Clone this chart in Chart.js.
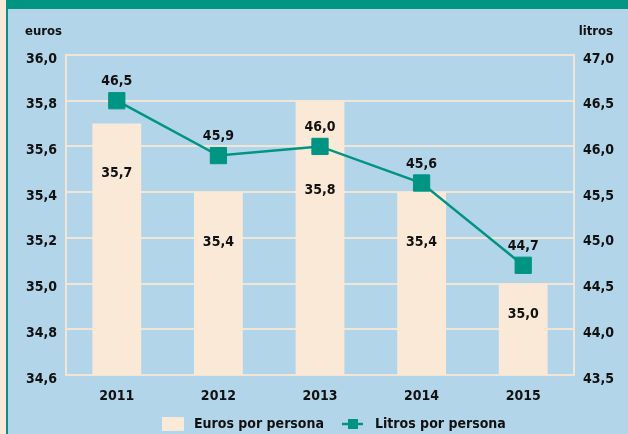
<!DOCTYPE html>
<html>
<head>
<meta charset="utf-8">
<script src="https://cdn.jsdelivr.net/npm/chart.js@4"></script>
<style>
html,body{margin:0;padding:0;background:#b3d5ea;}
#wrap{width:628px;height:434px;position:relative;}
</style>
</head>
<body>
<div id="wrap"><canvas id="c" width="628" height="434"></canvas></div>
<script>
const years = ['2011', '2012', '2013', '2014', '2015'];
const eurosPorPersona = [35.7, 35.4, 35.8, 35.4, 35.0];
const litrosPorPersona = [46.5, 45.9, 46.0, 45.6, 44.7];
const eurosTicks = [34.6, 34.8, 35.0, 35.2, 35.4, 35.6, 35.8, 36.0];
const litrosTicks = [43.5, 44.0, 44.5, 45.0, 45.5, 46.0, 46.5, 47.0];

const BG = '#b3d5ea';
const BEIGE = '#fbe9d8';
const TEAL = '#009483';
const GRID = '#f1e6d6';
const FONT = '"DejaVu Sans Condensed", "Liberation Sans Narrow", sans-serif';
const fmt = v => Number(v).toFixed(1).replace('.', ',');

const framePlugin = {
  id: 'frame',
  beforeDraw(chart) {
    const ctx = chart.ctx;
    ctx.save();
    ctx.fillStyle = BG;
    ctx.fillRect(0, 0, 628, 434);
    ctx.fillStyle = BEIGE;
    ctx.fillRect(0, 0, 6, 434);
    ctx.fillStyle = TEAL;
    ctx.fillRect(6, 0, 2, 434);
    ctx.fillRect(6, 0, 622, 9);
    ctx.restore();
  },
  afterDraw(chart) {
    const ctx = chart.ctx;
    const area = chart.chartArea;
    ctx.save();
    ctx.fillStyle = '#111';
    ctx.font = 'bold 13px ' + FONT;
    ctx.textBaseline = 'middle';
    ctx.textAlign = 'left';
    ctx.fillText('euros', 25, 32);
    ctx.textAlign = 'right';
    ctx.fillText('litros', 613, 32);

    // value labels
    const barMeta = chart.getDatasetMeta(0);
    const lineMeta = chart.getDatasetMeta(1);
    ctx.font = 'bold 14px ' + FONT;
    ctx.textAlign = 'center';
    lineMeta.data.forEach((pt, i) => {
      ctx.fillText(fmt(chart.data.datasets[1].data[i]), pt.x, pt.y - 19);
    });
    barMeta.data.forEach((bar, i) => {
      const h = area.bottom - bar.y;
      let y = bar.y + Math.min(50, h * 0.34);
      const p = lineMeta.data[i];
      if (Math.abs(p.y - y) < 30) y = p.y + 44;
      ctx.fillText(fmt(chart.data.datasets[0].data[i]), bar.x, y);
    });

    // legend
    ctx.font = 'bold 14px ' + FONT;
    ctx.textAlign = 'left';
    const ly = 424;
    ctx.fillStyle = BEIGE;
    ctx.fillRect(162, ly - 7, 22, 14);
    ctx.fillStyle = '#111';
    ctx.fillText(chart.data.datasets[0].label, 194, ly);
    ctx.strokeStyle = TEAL;
    ctx.lineWidth = 2.5;
    ctx.beginPath();
    ctx.moveTo(342, ly);
    ctx.lineTo(363, ly);
    ctx.stroke();
    ctx.fillStyle = TEAL;
    ctx.fillRect(348, ly - 5, 10, 10);
    ctx.fillStyle = '#111';
    ctx.fillText(chart.data.datasets[1].label, 375, ly);
    ctx.restore();
  }
};

const tickFont = { family: FONT, size: 14, weight: 'bold' };

new Chart(document.getElementById('c'), {
  data: {
    labels: years,
    datasets: [
      {
        type: 'bar',
        label: 'Euros por persona',
        data: eurosPorPersona,
        yAxisID: 'y',
        backgroundColor: BEIGE,
        borderWidth: 0,
        barPercentage: 0.48,
        categoryPercentage: 1.0,
        order: 2
      },
      {
        type: 'line',
        label: 'Litros por persona',
        data: litrosPorPersona,
        yAxisID: 'y1',
        borderColor: TEAL,
        borderWidth: 2.5,
        pointStyle: 'rect',
        pointRadius: 11.5,
        pointBackgroundColor: TEAL,
        pointBorderColor: TEAL,
        pointBorderWidth: 1,
        tension: 0,
        order: 1
      }
    ]
  },
  options: {
    responsive: false,
    animation: false,
    devicePixelRatio: 1,
    layout: { padding: { top: 55, left: 0, right: 0, bottom: 0 } },
    plugins: { legend: { display: false }, tooltip: { enabled: false } },
    scales: {
      x: {
        grid: { display: false },
        border: { display: false },
        ticks: { color: '#111', font: tickFont, padding: 5, maxRotation: 0 },
        afterFit(s) { s.height = 59; }
      },
      y: {
        position: 'left',
        min: 34.6, max: 36.0,
        afterBuildTicks(s) { s.ticks = eurosTicks.map(v => ({ value: v })); },
        grid: { color: GRID, lineWidth: 2, drawTicks: false },
        border: { display: true, color: GRID, width: 2 },
        ticks: { color: '#111', font: tickFont, padding: 9, labelOffset: 4, callback: v => fmt(v) },
        afterFit(s) { s.width = 66; }
      },
      y1: {
        position: 'right',
        min: 43.5, max: 47.0,
        afterBuildTicks(s) { s.ticks = litrosTicks.map(v => ({ value: v })); },
        grid: { drawOnChartArea: false, drawTicks: false },
        border: { display: true, color: GRID, width: 2 },
        ticks: { color: '#111', font: tickFont, padding: 9, labelOffset: 4, callback: v => fmt(v) },
        afterFit(s) { s.width = 54; }
      }
    }
  },
  plugins: [framePlugin]
});
</script>
</body>
</html>
